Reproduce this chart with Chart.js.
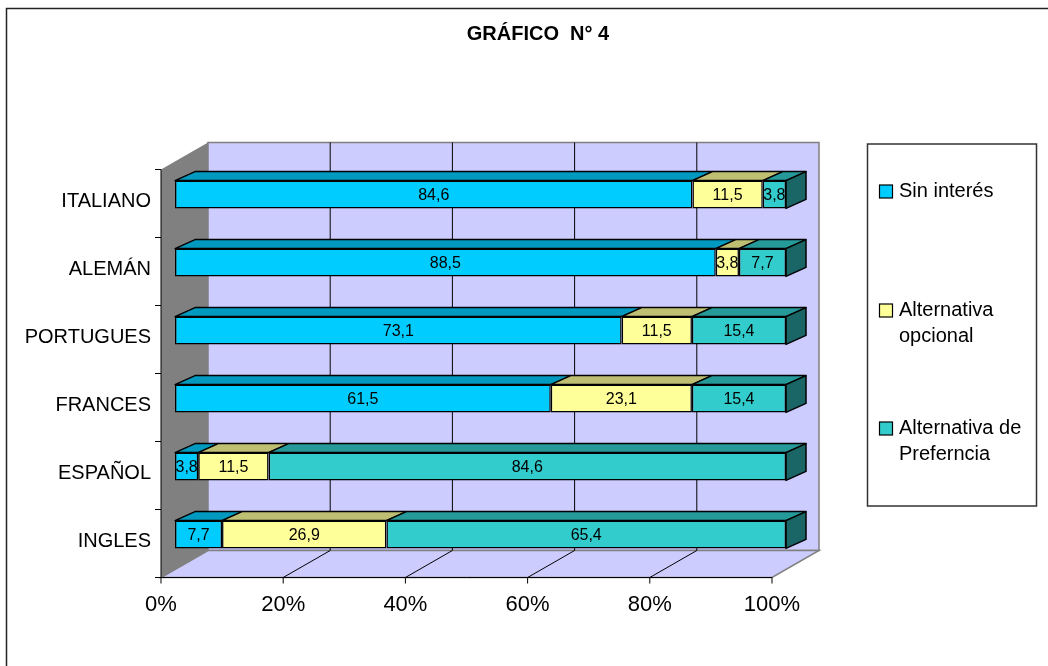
<!DOCTYPE html>
<html>
<head>
<meta charset="utf-8">
<script src="https://cdn.jsdelivr.net/npm/chart.js@4"></script>
<style>
  body { margin: 0; background: #fff; }
  canvas { display: block; }
</style>
</head>
<body>
<canvas id="grafico4" width="1048" height="666"></canvas>
<script>
const categories = ['ITALIANO', 'ALEMÁN', 'PORTUGUES', 'FRANCES', 'ESPAÑOL', 'INGLES'];
const sinInteres = [84.6, 88.5, 73.1, 61.5, 3.8, 7.7];
const altOpcional = [11.5, 3.8, 11.5, 23.1, 11.5, 26.9];
const altPreferencia = [3.8, 7.7, 15.4, 15.4, 84.6, 65.4];
const xTicks = [0, 20, 40, 60, 80, 100];
const seriesNames = [['Sin interés'], ['Alternativa', 'opcional'], ['Alternativa de', 'Preferncia']];

const FONT = '"Liberation Sans", Arial, sans-serif';
const faceColors = ['#00CCFF', '#FFFF99', '#33CCCC'];
const topColors = ['#0099BF', '#BFBF73', '#269999'];
const sideColor = '#1A6666';

// Excel 100% stacked: each row is scaled to its own total
const raw = [sinInteres, altOpcional, altPreferencia];
const totals = categories.map((c, i) => raw.reduce((s, arr) => s + arr[i], 0));

// offsets of the front plane / back wall / bar depth relative to the bar plane
const FRONT = { x: -14, y: 9 };
const BACK = { x: 33, y: -18 };
const DEPTH = { x: 20, y: -9 };

function poly(ctx, pts, fill, stroke, lw) {
    ctx.beginPath();
    ctx.moveTo(pts[0][0], pts[0][1]);
    for (let i = 1; i < pts.length; i++) ctx.lineTo(pts[i][0], pts[i][1]);
    ctx.closePath();
    if (fill) { ctx.fillStyle = fill; ctx.fill(); }
    if (stroke) { ctx.strokeStyle = stroke; ctx.lineWidth = lw || 1; ctx.stroke(); }
}

const excel3d = {
    id: 'excel3d',
    beforeDraw(chart) {
        const { ctx, chartArea: a, scales: { x, y } } = chart;
        ctx.save();
        ctx.fillStyle = '#fff';
        ctx.fillRect(0, 0, chart.width, chart.height);
        // outer frame
        ctx.strokeStyle = '#222';
        ctx.lineWidth = 1.5;
        ctx.strokeRect(6.5, 8.5, 1200, 800);

        // title
        ctx.fillStyle = '#000';
        ctx.font = 'bold 20px ' + FONT;
        ctx.textAlign = 'center';
        ctx.textBaseline = 'middle';
        ctx.fillText('GRÁFICO  N° 4', 538, 34);

        const L = a.left, R = a.right, T = a.top, B = a.bottom;
        // back wall
        poly(ctx, [[L + BACK.x, T + BACK.y], [R + BACK.x, T + BACK.y], [R + BACK.x, B + BACK.y], [L + BACK.x, B + BACK.y]], '#CCCCFF', '#808080', 1.5);
        // floor
        poly(ctx, [[L + FRONT.x, B + FRONT.y], [R + FRONT.x, B + FRONT.y], [R + BACK.x, B + BACK.y], [L + BACK.x, B + BACK.y]], '#CCCCFF', '#808080', 1.5);
        // left wall
        poly(ctx, [[L + FRONT.x, T + FRONT.y], [L + BACK.x, T + BACK.y], [L + BACK.x, B + BACK.y], [L + FRONT.x, B + FRONT.y]], '#808080', null);

        // gridlines on back wall and floor
        ctx.strokeStyle = '#000';
        ctx.lineWidth = 1;
        xTicks.forEach(t => {
            const px = x.getPixelForValue(t);
            if (t > 0 && t < 100) {
                ctx.beginPath();
                ctx.moveTo(px + BACK.x, T + BACK.y);
                ctx.lineTo(px + BACK.x, B + BACK.y);
                ctx.moveTo(px + FRONT.x, B + FRONT.y);
                ctx.lineTo(px + BACK.x, B + BACK.y);
                ctx.stroke();
            }
        });

        // front axes
        ctx.beginPath();
        ctx.moveTo(L + FRONT.x, T + FRONT.y);
        ctx.lineTo(L + FRONT.x, B + FRONT.y);
        ctx.lineTo(R + FRONT.x, B + FRONT.y);
        ctx.stroke();
        for (let i = 0; i <= categories.length; i++) {
            const py = y.getPixelForValue(i - 0.5) + FRONT.y;
            ctx.beginPath();
            ctx.moveTo(L + FRONT.x - 6, py);
            ctx.lineTo(L + FRONT.x, py);
            ctx.stroke();
        }
        ctx.fillStyle = '#000';
        ctx.font = '22px ' + FONT;
        ctx.textAlign = 'center';
        xTicks.forEach(t => {
            const px = x.getPixelForValue(t) + FRONT.x;
            ctx.beginPath();
            ctx.moveTo(px, B + FRONT.y);
            ctx.lineTo(px, B + FRONT.y + 6);
            ctx.stroke();
            ctx.fillText(t + '%', px, B + FRONT.y + 27);
        });

        // category labels
        ctx.font = '20px ' + FONT;
        ctx.textAlign = 'right';
        categories.forEach((c, i) => {
            ctx.fillText(c, L + FRONT.x - 10, y.getPixelForValue(i) + 7);
        });
        ctx.restore();
    },
    afterDatasetsDraw(chart) {
        const { ctx } = chart;
        ctx.save();
        ctx.lineJoin = 'round';
        const nSets = chart.data.datasets.length;
        categories.forEach((c, i) => {
            for (let d = 0; d < nSets; d++) {
                const el = chart.getDatasetMeta(d).data[i];
                const l = Math.min(el.base, el.x), r = Math.max(el.base, el.x);
                const top = el.y - el.height / 2, bot = el.y + el.height / 2;
                poly(ctx, [[l, top], [r, top], [r + DEPTH.x, top + DEPTH.y], [l + DEPTH.x, top + DEPTH.y]], topColors[d], '#000', 1.5);
                if (d === nSets - 1) {
                    poly(ctx, [[r, top], [r + DEPTH.x, top + DEPTH.y], [r + DEPTH.x, bot + DEPTH.y], [r, bot]], sideColor, '#000', 1.5);
                }
            }
            // value labels
            ctx.fillStyle = '#000';
            ctx.font = '16px ' + FONT;
            ctx.textAlign = 'center';
            ctx.textBaseline = 'middle';
            for (let d = 0; d < nSets; d++) {
                const el = chart.getDatasetMeta(d).data[i];
                const v = raw[d][i];
                ctx.fillText(v.toFixed(1).replace('.', ','), (el.base + el.x) / 2, el.y + 1);
            }
        });
        ctx.restore();
    },
    afterDraw(chart) {
        const { ctx } = chart;
        ctx.save();
        // legend box
        ctx.strokeStyle = '#333';
        ctx.lineWidth = 1.5;
        ctx.strokeRect(867.5, 144, 169, 362);
        const itemY = [191, 310, 428];
        ctx.font = '20px ' + FONT;
        ctx.textAlign = 'left';
        ctx.textBaseline = 'middle';
        chart.data.datasets.forEach((ds, d) => {
            ctx.fillStyle = ds.backgroundColor;
            ctx.fillRect(879.5, itemY[d] - 6, 13, 13);
            ctx.strokeStyle = '#000';
            ctx.lineWidth = 1.2;
            ctx.strokeRect(879.5, itemY[d] - 6, 13, 13);
            ctx.fillStyle = '#000';
            seriesNames[d].forEach((line, k) => {
                ctx.fillText(line, 899, itemY[d] + k * 26);
            });
        });
        ctx.restore();
    }
};

const datasets = raw.map((arr, d) => ({
    label: seriesNames[d].join(' '),
    data: arr.map((v, i) => v / totals[i] * 100),
    backgroundColor: faceColors[d],
    borderColor: '#000',
    borderWidth: 1.5,
    borderSkipped: false,
    barPercentage: 0.41,
    categoryPercentage: 1
}));

new Chart(document.getElementById('grafico4').getContext('2d'), {
    type: 'bar',
    data: { labels: categories, datasets: datasets },
    options: {
        indexAxis: 'y',
        responsive: false,
        animation: false,
        layout: { padding: { left: 175, right: 262, top: 160.5, bottom: 97.5 } },
        scales: {
            x: { stacked: true, min: 0, max: 100, display: false },
            y: { stacked: true, display: false }
        },
        plugins: {
            legend: { display: false },
            tooltip: { enabled: false }
        }
    },
    plugins: [excel3d]
});
</script>
</body>
</html>
